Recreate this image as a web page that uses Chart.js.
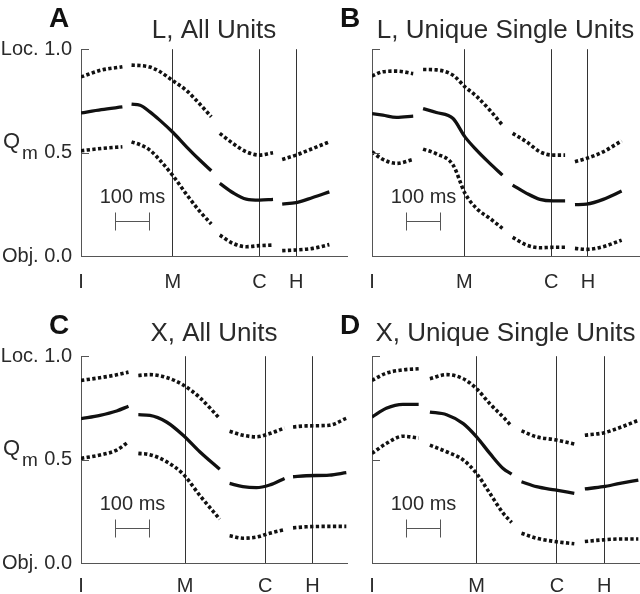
<!DOCTYPE html>
<html>
<head>
<meta charset="utf-8">
<script src="https://cdn.jsdelivr.net/npm/chart.js@4.4.1/dist/chart.umd.min.js"></script>
<style>
  body { margin: 0; background: #fff; }
  #wrap { position: relative; width: 640px; height: 594px; overflow: hidden; }
  canvas { position: absolute; }
</style>
</head>
<body>
<div id="wrap">
  <canvas id="panelA" width="350" height="297" style="left:0;top:0"></canvas>
  <canvas id="panelB" width="310" height="297" style="left:330px;top:0"></canvas>
  <canvas id="panelC" width="350" height="294" style="left:0;top:300px"></canvas>
  <canvas id="panelD" width="310" height="294" style="left:330px;top:300px"></canvas>
</div>
<script>
// time in ms from I; null values mark the breaks between epochs
const timeA  = [0, 60, 122, 136, 149, 174, 203, 232, 272, 311, 350, 384, 396, 409, 448, 487, 526, 566, 580, 593, 634, 683, 732];
const meanA  = [0.692, 0.708, 0.721, null, 0.734, 0.729, 0.697, 0.657, 0.596, 0.528, 0.464, 0.412, null, 0.351, 0.306, 0.275, 0.270, 0.274, null, 0.251, 0.258, 0.283, 0.310];
const upperA = [0.866, 0.899, 0.915, null, 0.923, 0.921, 0.914, 0.892, 0.846, 0.800, 0.735, 0.673, null, 0.593, 0.544, 0.504, 0.488, 0.499, null, 0.467, 0.488, 0.520, 0.552];
const lowerA = [0.509, 0.520, 0.528, null, 0.552, 0.538, 0.512, 0.464, 0.386, 0.298, 0.216, 0.155, null, 0.101, 0.061, 0.045, 0.050, 0.053, null, 0.026, 0.029, 0.037, 0.055];

const timeB  = [0, 32, 72, 121, 135, 150, 189, 238, 273, 307, 346, 383, 398, 413, 454, 493, 532, 567, 582, 596, 630, 679, 733];
const meanB  = [0.689, 0.681, 0.670, 0.676, null, 0.713, 0.694, 0.665, 0.576, 0.512, 0.448, 0.391, null, 0.343, 0.303, 0.274, 0.267, 0.267, null, 0.248, 0.251, 0.274, 0.314];
const upperB = [0.870, 0.891, 0.894, 0.882, null, 0.902, 0.900, 0.874, 0.818, 0.772, 0.705, 0.633, null, 0.593, 0.552, 0.504, 0.488, 0.488, null, 0.456, 0.472, 0.504, 0.557];
const lowerB = [0.504, 0.467, 0.448, 0.467, null, 0.517, 0.494, 0.440, 0.303, 0.230, 0.182, 0.134, null, 0.090, 0.053, 0.040, 0.042, 0.042, null, 0.037, 0.032, 0.045, 0.077];

const timeC  = [0, 56, 105, 140, 155, 169, 203, 252, 301, 350, 409, 424, 438, 477, 517, 556, 600, 612, 625, 664, 732, 782];
const meanC  = [0.698, 0.714, 0.735, 0.758, null, 0.717, 0.714, 0.682, 0.618, 0.538, 0.453, null, 0.385, 0.369, 0.364, 0.377, 0.409, null, 0.417, 0.422, 0.425, 0.437];
const upperC = [0.883, 0.896, 0.910, 0.923, null, 0.907, 0.911, 0.897, 0.861, 0.800, 0.698, null, 0.637, 0.618, 0.610, 0.626, 0.653, null, 0.658, 0.663, 0.666, 0.700];
const lowerC = [0.506, 0.522, 0.546, 0.586, null, 0.530, 0.524, 0.490, 0.430, 0.327, 0.212, null, 0.132, 0.120, 0.125, 0.144, 0.161, null, 0.170, 0.175, 0.177, 0.177];

const timeD  = [0, 42, 91, 137, 154, 170, 219, 268, 307, 346, 385, 410, 425, 439, 483, 537, 594, 610, 625, 679, 728, 782];
const meanD  = [0.706, 0.748, 0.767, 0.767, null, 0.730, 0.717, 0.674, 0.610, 0.530, 0.457, 0.430, null, 0.393, 0.369, 0.353, 0.337, null, 0.358, 0.369, 0.385, 0.401];
const upperD = [0.883, 0.918, 0.934, 0.939, null, 0.891, 0.911, 0.891, 0.843, 0.770, 0.706, 0.661, null, 0.639, 0.610, 0.596, 0.575, null, 0.618, 0.629, 0.655, 0.690];
const lowerD = [0.530, 0.578, 0.613, 0.604, null, 0.570, 0.538, 0.498, 0.433, 0.337, 0.241, 0.196, null, 0.144, 0.120, 0.104, 0.093, null, 0.104, 0.112, 0.116, 0.116];

// event times (ms): I, M, C, H
const eventLabels = ['I', 'M', 'C', 'H'];
const eventsL = [0, 271, 526, 634];
const eventsX = [0, 307, 543, 682];

const yTickValues = [0, 0.5, 1];
const yTickLabels = ['Obj. 0.0', '0.5', 'Loc. 1.0'];

const scaleBarMs = [100, 200];
const scaleBarLevel = 0.17;
const scaleBarTextLevel = 0.285;
const scaleBarLabel = '100 ms';
const xMax = 784;

const FONT = '"Liberation Sans", Arial, Helvetica, sans-serif';
const textColor = '#2a2a2a';
const axisColor = '#555';
const lineColor = '#111';
Chart.defaults.font.family = FONT;

const extrasPlugin = {
    id: 'panelExtras',
    afterDraw(chart, args, opts) {
        const { ctx, chartArea: a, scales: { x, y } } = chart;
        ctx.save();
        // inward y ticks
        ctx.strokeStyle = axisColor;
        ctx.lineWidth = 1;
        yTickValues.forEach(v => {
            if (v === 0) return;
            const py = Math.round(y.getPixelForValue(v)) + 0.5;
            ctx.beginPath();
            ctx.moveTo(a.left, py);
            ctx.lineTo(a.left + 8, py);
            ctx.stroke();
        });
        // 100 ms scale bar
        const x0 = Math.round(x.getPixelForValue(scaleBarMs[0])) + 0.5;
        const x1 = Math.round(x.getPixelForValue(scaleBarMs[1])) + 0.5;
        const yb = Math.round(y.getPixelForValue(scaleBarLevel)) + 0.5;
        ctx.beginPath();
        ctx.moveTo(x0, yb); ctx.lineTo(x1, yb);
        ctx.moveTo(x0, yb - 9); ctx.lineTo(x0, yb + 9);
        ctx.moveTo(x1, yb - 9); ctx.lineTo(x1, yb + 9);
        ctx.stroke();
        ctx.fillStyle = textColor;
        ctx.font = '20px ' + FONT;
        ctx.textAlign = 'center';
        ctx.textBaseline = 'middle';
        ctx.fillText(scaleBarLabel, (x0 + x1) / 2, y.getPixelForValue(scaleBarTextLevel));
        // panel letter
        ctx.font = 'bold 28px ' + FONT;
        ctx.fillStyle = '#111';
        ctx.textAlign = 'left';
        ctx.textBaseline = 'alphabetic';
        ctx.fillText(opts.letter, a.left - 32, a.top - 22);
        // Q_m label
        if (opts.showQ) {
            const ym = y.getPixelForValue(0.5);
            ctx.fillStyle = textColor;
            ctx.font = '22px ' + FONT;
            ctx.fillText('Q', a.left - 78, ym - 5);
            ctx.font = '19px ' + FONT;
            ctx.fillText('m', a.left - 59, ym + 6);
        }
        ctx.restore();
    }
};

function toPoints(times, values) {
    return times.map((t, i) => ({ x: t, y: values[i] }));
}

function makePanel(id, cfg) {
    const ctx = document.getElementById(id).getContext('2d');
    const dotted = {
        borderColor: lineColor,
        borderWidth: 3.6,
        borderDash: [3.3, 2.4],
        borderCapStyle: 'butt',
        pointRadius: 0,
        fill: false,
        spanGaps: false,
        cubicInterpolationMode: 'monotone'
    };
    return new Chart(ctx, {
        type: 'line',
        data: {
            datasets: [
                Object.assign({ label: 'upper', data: toPoints(cfg.time, cfg.upper) }, dotted),
                Object.assign({ label: 'lower', data: toPoints(cfg.time, cfg.lower) }, dotted),
                {
                    label: 'mean',
                    data: toPoints(cfg.time, cfg.mean),
                    borderColor: lineColor,
                    borderWidth: 3.3,
                    pointRadius: 0,
                    fill: false,
                    spanGaps: false,
                    cubicInterpolationMode: 'monotone'
                }
            ]
        },
        options: {
            responsive: false,
            animation: false,
            layout: { padding: cfg.padding },
            plugins: {
                legend: { display: false },
                tooltip: { enabled: false },
                title: {
                    display: true,
                    text: cfg.title,
                    fullSize: false,
                    color: textColor,
                    font: { size: 26, weight: 'normal' },
                    padding: cfg.titlePadding
                },
                panelExtras: { letter: cfg.letter, showQ: cfg.showLabels }
            },
            scales: {
                x: {
                    type: 'linear',
                    min: 0,
                    max: xMax,
                    afterBuildTicks: s => { s.ticks = cfg.events.map(v => ({ value: v })); },
                    afterFit: s => { s.height = cfg.xAxisHeight; },
                    grid: { display: true, drawOnChartArea: true, drawTicks: false, color: '#333', lineWidth: 1 },
                    border: { display: true, color: axisColor, width: 1 },
                    ticks: {
                        autoSkip: false,
                        maxRotation: 0,
                        padding: cfg.xLabelPad,
                        color: textColor,
                        font: { size: 20 },
                        callback: v => eventLabels[cfg.events.indexOf(v)]
                    }
                },
                y: {
                    type: 'linear',
                    min: 0,
                    max: 1,
                    afterBuildTicks: s => { s.ticks = yTickValues.map(v => ({ value: v })); },
                    afterFit: s => { s.width = cfg.showLabels ? 81 : 0; },
                    grid: { display: false, drawTicks: false },
                    border: { display: true, color: axisColor, width: 1 },
                    ticks: {
                        display: cfg.showLabels,
                        padding: 9,
                        color: textColor,
                        font: { size: 20 },
                        callback: v => yTickLabels[yTickValues.indexOf(v)]
                    }
                }
            }
        },
        plugins: [extrasPlugin]
    });
}

makePanel('panelA', {
    letter: 'A', title: 'L, All Units', showLabels: true, events: eventsL,
    time: timeA, mean: meanA, upper: upperA, lower: lowerA,
    padding: { top: 15, left: 0, right: 3, bottom: 0 },
    titlePadding: { top: 0, bottom: 3 }, xAxisHeight: 41, xLabelPad: 14
});
makePanel('panelB', {
    letter: 'B', title: 'L, Unique Single Units', showLabels: false, events: eventsL,
    time: timeB, mean: meanB, upper: upperB, lower: lowerB,
    padding: { top: 15, left: 42, right: 1, bottom: 0 },
    titlePadding: { top: 0, bottom: 3 }, xAxisHeight: 41, xLabelPad: 14
});
makePanel('panelC', {
    letter: 'C', title: 'X, All Units', showLabels: true, events: eventsX,
    time: timeC, mean: meanC, upper: upperC, lower: lowerC,
    padding: { top: 18, left: 0, right: 3, bottom: 0 },
    titlePadding: { top: 0, bottom: 7 }, xAxisHeight: 31, xLabelPad: 11
});
makePanel('panelD', {
    letter: 'D', title: 'X, Unique Single Units', showLabels: false, events: eventsX,
    time: timeD, mean: meanD, upper: upperD, lower: lowerD,
    padding: { top: 18, left: 42, right: 1, bottom: 0 },
    titlePadding: { top: 0, bottom: 7 }, xAxisHeight: 31, xLabelPad: 11
});
</script>
</body>
</html>
